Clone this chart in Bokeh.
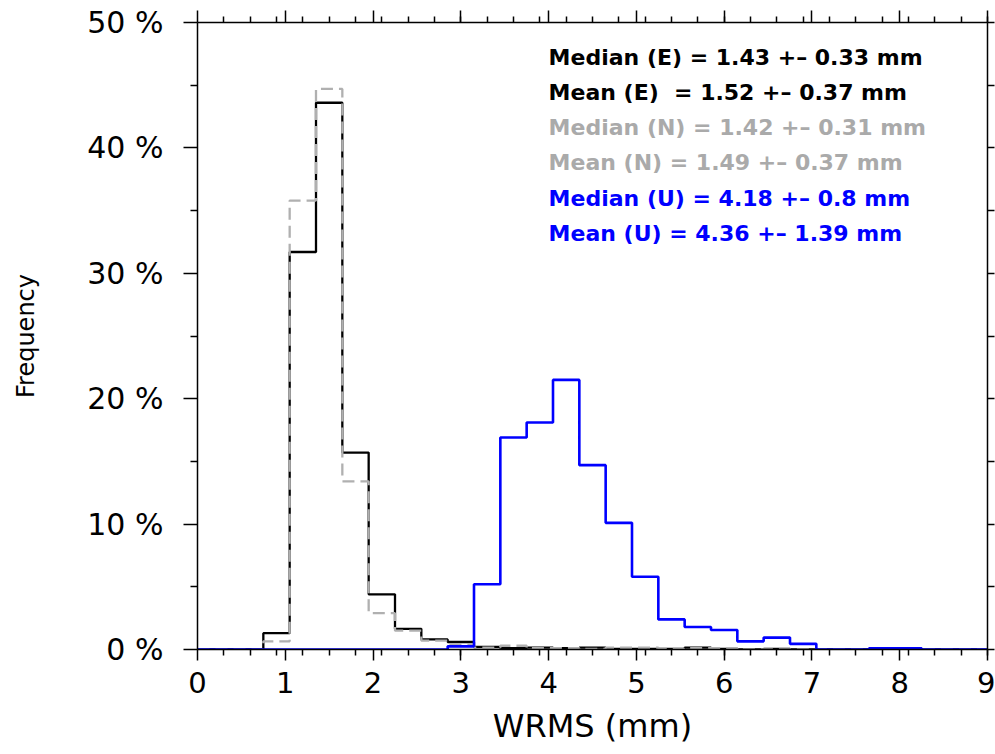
from bokeh.plotting import figure
from bokeh.models import Range1d, LinearAxis, FixedTicker, ColumnDataSource, CustomLabelingPolicy
from bokeh.core.properties import value
from bokeh.embed import file_html
from bokeh.resources import INLINE

# ---- data (percent of stations per WRMS bin) ----
bin_edges = [0.0, 0.75, 1.05, 1.35, 1.65, 1.95, 2.25, 2.55, 2.85, 3.15, 3.45,
             3.75, 4.05, 4.35, 4.65, 4.95, 5.25, 5.55, 5.85, 6.15, 6.45, 6.75,
             7.05, 7.35, 7.65, 7.95, 8.25, 9.0]

east_pct = [0.0, 1.3, 31.7, 43.6, 15.7, 4.4, 1.65, 0.8, 0.6, 0.2, 0.1,
            0.15, 0.1, 0.15, 0.05, 0.05, 0.05, 0.15, 0.05, 0.0, 0.05, 0.0,
            0.0, 0.0, 0.0, 0.0, 0.0]

north_pct = [0.0, 0.65, 35.8, 44.7, 13.4, 2.9, 1.5, 0.7, 0.4, 0.15, 0.3,
             0.1, 0.1, 0.05, 0.15, 0.15, 0.05, 0.1, 0.1, 0.0, 0.0, 0.0,
             0.0, 0.0, 0.0, 0.0, 0.0]

up_pct = [0.0, 0.0, 0.0, 0.0, 0.0, 0.0, 0.0, 0.0, 0.25, 5.2, 16.9,
          18.1, 21.5, 14.7, 10.1, 5.8, 2.4, 1.8, 1.55, 0.65, 0.95, 0.45,
          0.0, 0.0, 0.1, 0.1, 0.0]

x_ticks = [0, 1, 2, 3, 4, 5, 6, 7, 8, 9]
y_ticks = [0, 10, 20, 30, 40, 50]
y_tick_labels = ["0 %", "10 %", "20 %", "30 %", "40 %", "50 %"]

stat_text = ["Median (E) = 1.43 +\u2013 0.33 mm",
             "Mean (E)\u00a0 = 1.52 +\u2013 0.37 mm",
             "Median (N) = 1.42 +\u2013 0.31 mm",
             "Mean (N) = 1.49 +\u2013 0.37 mm",
             "Median (U) = 4.18 +\u2013 0.8 mm",
             "Mean (U) = 4.36 +\u2013 1.39 mm"]
stat_color = ["#000000", "#000000", "#aaaaaa", "#aaaaaa", "#0000ff", "#0000ff"]

FONT = "DejaVu Sans"

p = figure(width=995, height=754, x_range=Range1d(0, 9), y_range=Range1d(0, 50),
           output_backend="svg", toolbar_location=None, title=None,
           min_border_left=197, min_border_right=8, min_border_top=22,
           min_border_bottom=105)
p.xgrid.visible = False
p.ygrid.visible = False
p.outline_line_color = None
p.background_fill_color = "white"
p.border_fill_color = "white"

minor_x = [round(0.3 * i, 1) for i in range(1, 31)]

# bottom axis
xa = p.xaxis[0]
xa.ticker = FixedTicker(ticks=x_ticks, minor_ticks=minor_x)
xa.axis_label = "WRMS (mm)"
xa.axis_label_text_font = FONT
xa.axis_label_text_font_size = "32px"
xa.axis_label_text_font_style = "normal"
xa.axis_label_text_color = "black"
xa.axis_label_standoff = 11
xa.major_label_text_font = FONT
xa.major_label_text_font_size = "29px"
xa.major_label_text_color = "black"
xa.major_label_standoff = 11
xa.major_tick_out = 11
xa.major_tick_in = 0
xa.minor_tick_out = 6
xa.minor_tick_in = 0
for prop in ("axis_line_width", "major_tick_line_width", "minor_tick_line_width"):
    setattr(xa, prop, 1.5)
xa.axis_line_color = "black"
xa.major_tick_line_color = "black"
xa.minor_tick_line_color = "black"

# left axis
ya = p.yaxis[0]
ya.ticker = FixedTicker(ticks=y_ticks, minor_ticks=[5, 15, 25, 35, 45])
ya.major_label_overrides = {t: lab for t, lab in zip(y_ticks, y_tick_labels)}
ya.axis_label = "Frequency"
ya.axis_label_text_font = FONT
ya.axis_label_text_font_size = "24px"
ya.axis_label_text_font_style = "normal"
ya.axis_label_text_color = "black"
ya.axis_label_standoff = 44
ya.major_label_text_font = FONT
ya.major_label_text_font_size = "30px"
ya.major_label_text_color = "black"
ya.major_label_standoff = 20
ya.major_tick_out = 14
ya.major_tick_in = 0
ya.minor_tick_out = 7
ya.minor_tick_in = 0
for prop in ("axis_line_width", "major_tick_line_width", "minor_tick_line_width"):
    setattr(ya, prop, 1.5)
ya.axis_line_color = "black"

no_labels = "for (const i of indices) indices.unset(i)"

# top axis (ticks only)
top = LinearAxis(ticker=FixedTicker(ticks=x_ticks, minor_ticks=minor_x),
                 major_label_text_font_size="0px", major_label_standoff=0,
                 major_label_policy=CustomLabelingPolicy(code=no_labels),
                 major_tick_out=12, major_tick_in=0, minor_tick_out=6, minor_tick_in=0,
                 axis_line_width=1.5, major_tick_line_width=1.5, minor_tick_line_width=1.5,
                 axis_line_color="black")
p.add_layout(top, "above")

# right axis (ticks only)
right = LinearAxis(ticker=FixedTicker(ticks=[0, 5, 10, 15, 20, 25, 30, 35, 40, 45, 50],
                                      minor_ticks=[]),
                   major_label_text_font_size="0px", major_label_standoff=0,
                   major_label_policy=CustomLabelingPolicy(code=no_labels),
                   major_tick_out=7, major_tick_in=0, minor_tick_out=0, minor_tick_in=0,
                   axis_line_width=1.5, major_tick_line_width=1.5,
                   axis_line_color="black")
p.add_layout(right, "right")

# histograms as step lines
def step_y(vals):
    return list(vals) + [vals[-1]]

p.step(x=bin_edges, y=step_y(east_pct), mode="after", line_color="black", line_width=2.3)
p.step(x=bin_edges, y=step_y(north_pct), mode="after", line_color="#b0b0b0",
       line_width=2.3, line_dash="12 6")
p.step(x=bin_edges, y=step_y(up_pct), mode="after", line_color="#0000ff", line_width=2.6)

# statistics text
n = len(stat_text)
src = ColumnDataSource(dict(x=[4.0] * n, y=[47.2 - 2.8 * i for i in range(n)],
                            text=stat_text, color=stat_color))
p.text(x="x", y="y", text="text", text_color="color", source=src,
       text_font=value(FONT), text_font_style="bold", text_font_size="22px",
       text_baseline="middle", text_align="left")

open("out.html", "w").write(file_html(p, INLINE))
